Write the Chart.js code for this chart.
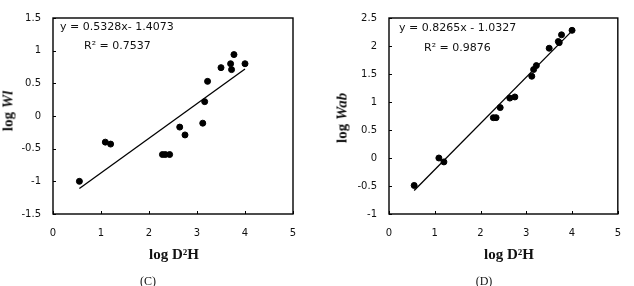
<!DOCTYPE html>
<html>
<head>
<meta charset="utf-8">
<script src="https://cdn.jsdelivr.net/npm/chart.js@4/dist/chart.umd.min.js"></script>
<style>
  html, body { margin:0; padding:0; background:#fff; }
  #wrap { position:relative; width:634px; height:286px; overflow:hidden; }
  canvas { position:absolute; top:0; }
  .t { position:absolute; white-space:nowrap; color:#111; }
  .eq { font-family:"DejaVu Sans", sans-serif; font-size:11px; transform:translateY(-50%); }
  .xt { font-family:"Liberation Serif", serif; font-weight:bold; font-size:15px; transform:translate(-50%,-50%); }
  .yt { font-family:"Liberation Serif", serif; font-weight:bold; font-size:15px; transform:translate(-50%,-50%) rotate(-90deg); }
  .cap { font-family:"Liberation Serif", serif; font-size:12px; transform:translate(-50%,-50%); }
</style>
</head>
<body>
<div id="wrap">
  <canvas id="c1" width="317" height="286" style="left:0px"></canvas>
  <canvas id="c2" width="317" height="286" style="left:317px"></canvas>

  <div class="t eq" style="left:60px;top:26px">y = 0.5328x- 1.4073</div>
  <div class="t eq" style="left:84px;top:45px">R² = 0.7537</div>
  <div class="t xt" style="left:174px;top:254px">log D²H</div>
  <div class="t yt" style="left:8px;top:111px">log <i>Wl</i></div>
  <div class="t cap" style="left:148px;top:281px">(C)</div>

  <div class="t eq" style="left:399px;top:27px">y = 0.8265x - 1.0327</div>
  <div class="t eq" style="left:424px;top:47px">R² = 0.9876</div>
  <div class="t xt" style="left:509px;top:254px">log D²H</div>
  <div class="t yt" style="left:342px;top:118px">log <i>Wab</i></div>
  <div class="t cap" style="left:484px;top:281px">(D)</div>
</div>
<script>
// ---- data ----
const logD2H = [0.55, 1.09, 1.20, 2.28, 2.34, 2.43, 2.64, 2.75, 3.12, 3.16, 3.22, 3.50, 3.70, 3.72, 3.77, 4.00];
const logWl  = [-1.00, -0.40, -0.43, -0.59, -0.59, -0.59, -0.17, -0.29, -0.11, 0.22, 0.53, 0.74, 0.80, 0.71, 0.94, 0.80];
const logWab = [-0.49, 0.00, -0.07, 0.72, 0.72, 0.90, 1.07, 1.09, 1.46, 1.58, 1.65, 1.96, 2.08, 2.06, 2.20, 2.28];
const trendX   = [0.55, 4.00];
const trendWl  = [-1.11, 0.72];
const trendWab = [-0.58, 2.27];
const xTicks    = [0, 1, 2, 3, 4, 5];
const yTicksWl  = [-1.5, -1, -0.5, 0, 0.5, 1, 1.5];
const yTicksWab = [-1, -0.5, 0, 0.5, 1, 1.5, 2, 2.5];

const framePlugin = {
  id: 'frame',
  afterDatasetsDraw(chart) {
    const { ctx, chartArea: a, scales } = chart;
    ctx.save();
    ctx.strokeStyle = '#000';
    ctx.lineWidth = 1.4;
    ctx.strokeRect(a.left, a.top, a.right - a.left, a.bottom - a.top);
    ctx.beginPath();
    ctx.lineWidth = 1;
    scales.x.ticks.forEach(t => {
      const p = Math.round(scales.x.getPixelForValue(t.value)) + 0.5;
      ctx.moveTo(p, a.bottom); ctx.lineTo(p, a.bottom - 3);
    });
    scales.y.ticks.forEach(t => {
      const p = Math.round(scales.y.getPixelForValue(t.value)) + 0.5;
      ctx.moveTo(a.left, p); ctx.lineTo(a.left + 3, p);
    });
    ctx.stroke();
    ctx.restore();
  }
};

function makeChart(id, ys, trendY, yTicks, geom) {
  const pts = logD2H.map((x, i) => ({ x: x, y: ys[i] }));
  const trend = trendX.map((x, i) => ({ x: x, y: trendY[i] }));
  const tickFont = { family: 'DejaVu Sans', size: 10 };
  return new Chart(document.getElementById(id), {
    type: 'scatter',
    data: {
      datasets: [
        { data: trend, type: 'line', showLine: true, borderColor: '#000', borderWidth: 1.3,
          pointRadius: 0, fill: false, order: 2 },
        { data: pts, backgroundColor: '#000', borderColor: '#000', pointRadius: 3,
          pointHoverRadius: 3, order: 1 }
      ]
    },
    options: {
      responsive: false,
      animation: false,
      events: [],
      layout: { padding: { top: geom.top, right: geom.right, bottom: 0, left: 0 } },
      plugins: { legend: { display: false }, tooltip: { enabled: false } },
      scales: {
        x: {
          type: 'linear', min: 0, max: 5,
          grid: { display: false, drawTicks: false },
          border: { display: false },
          afterBuildTicks: s => { s.ticks = xTicks.map(v => ({ value: v })); },
          afterFit: s => { s.height = geom.xh; },
          ticks: { font: tickFont, color: '#111', padding: 13, maxRotation: 0,
                   callback: v => String(v) }
        },
        y: {
          type: 'linear', min: yTicks[0], max: yTicks[yTicks.length - 1],
          grid: { display: false, drawTicks: false },
          border: { display: false },
          afterBuildTicks: s => { s.ticks = yTicks.map(v => ({ value: v })); },
          afterFit: s => { s.width = geom.yw; },
          ticks: { font: tickFont, color: '#111', padding: 12,
                   callback: v => String(v) }
        }
      }
    },
    plugins: [framePlugin]
  });
}

makeChart('c1', logWl, trendWl, yTicksWl, { top: 10, right: 24, xh: 72, yw: 53 });
makeChart('c2', logWab, trendWab, yTicksWab, { top: 9, right: 6, xh: 72, yw: 72 });
</script>
</body>
</html>
